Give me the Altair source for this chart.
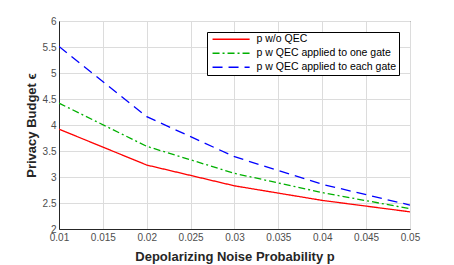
import altair as alt
import pandas as pd

p_values = [0.01, 0.02, 0.03, 0.04, 0.05]
series_names = ["p w/o QEC", "p w QEC applied to one gate", "p w QEC applied to each gate"]
no_qec = [3.92, 3.23, 2.83, 2.55, 2.33]
qec_one_gate = [4.42, 3.59, 3.07, 2.70, 2.39]
qec_each_gate = [5.51, 4.16, 3.39, 2.86, 2.46]
colors = ["#ff0000", "#00b000", "#0000ff"]
dashes = [[1, 0], [7, 3, 2, 3], [10, 6]]

rows = []
for name, vals in zip(series_names, [no_qec, qec_one_gate, qec_each_gate]):
    for p, v in zip(p_values, vals):
        rows.append({"p": p, "eps": v, "series": name})
df = pd.DataFrame(rows)

legend = alt.Legend(
    title=None, orient="none", legendX=148, legendY=11,
    symbolType="M-1,0H9", symbolSize=55, symbolStrokeWidth=1.3, symbolOffset=2,
    labelFont="Liberation Sans", labelFontSize=10.5, labelColor="#000000",
    labelOffset=35, rowPadding=3, padding=2,
    strokeColor="#000000", fillColor="#ffffff", cornerRadius=0,
)

chart = alt.Chart(df).mark_line(strokeWidth=1.3, clip=True).encode(
    x=alt.X("p:Q", scale=alt.Scale(domain=[0.01, 0.05], nice=False),
            axis=alt.Axis(title="Depolarizing Noise Probability p",
                          values=[0.01, 0.015, 0.02, 0.025, 0.03, 0.035, 0.04, 0.045, 0.05],
                          format="~g", labelFlush=False, titlePadding=8)),
    y=alt.Y("eps:Q", scale=alt.Scale(domain=[2, 6], nice=False),
            axis=alt.Axis(title="Privacy Budget ϵ", values=[2, 2.5, 3, 3.5, 4, 4.5, 5, 5.5, 6],
                          format="~g", labelFlush=False, titlePadding=4)),
    color=alt.Color("series:N", scale=alt.Scale(domain=series_names, range=colors),
                    sort=series_names, legend=legend),
    strokeDash=alt.StrokeDash("series:N", scale=alt.Scale(domain=series_names, range=dashes),
                              sort=series_names, legend=legend),
).properties(
    width=351, height=208,
    autosize=alt.AutoSizeParams(type="none"),
    padding={"left": 51, "top": 13, "right": 36, "bottom": 36},
).configure_view(
    stroke="#262626", strokeWidth=1,
).configure_axis(
    grid=True, gridColor="#dcdcdc", gridWidth=1,
    domainColor="#262626", domainWidth=1,
    ticks=False, labelPadding=3,
    labelFont="Liberation Sans", labelFontSize=10, labelColor="#4d4d4d",
    titleFont="Liberation Sans", titleFontSize=13, titleFontWeight="bold", titleColor="#262626",
)

chart.save("out.html", embed_options={"renderer": "svg", "actions": False})
